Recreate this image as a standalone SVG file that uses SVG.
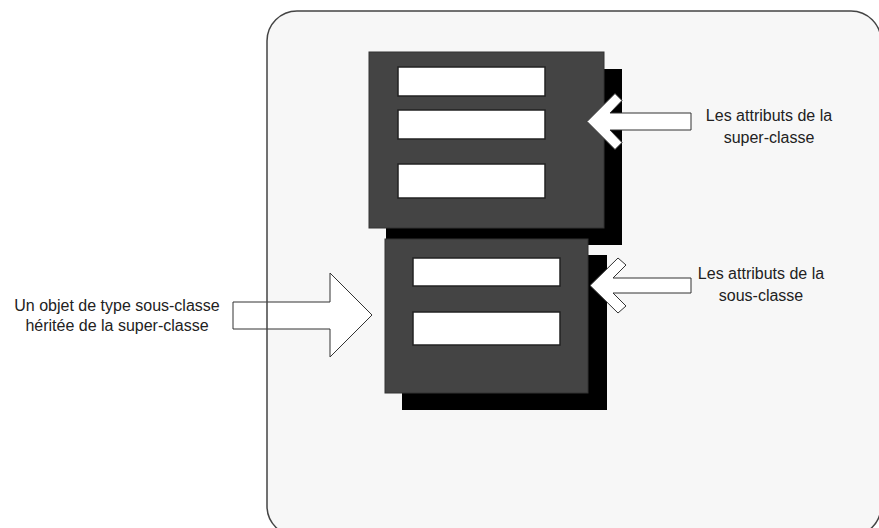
<svg xmlns="http://www.w3.org/2000/svg" width="879" height="528" viewBox="0 0 879 528">
  <style>
    .lbl { font-family: "Liberation Sans", Arial, sans-serif; font-size: 16px; fill: #222; text-anchor: middle; }
    .shadow { fill: #000; }
    .box { fill: #444; stroke: #333; stroke-width: 1; }
    .bar { fill: #fff; stroke: #222; stroke-width: 1.5; }
    .arrow { fill: #fff; stroke: #333; stroke-width: 1; stroke-linejoin: miter; }
  </style>
  <rect x="0" y="0" width="879" height="528" fill="#fff"/>
  <g id="container">
    <rect x="267" y="11" width="614" height="525" rx="30" ry="30" fill="#f7f7f7"/>
  </g>
  <g id="super-classe">
    <rect class="shadow" x="386" y="69" width="236" height="176"/>
    <rect class="box" x="369" y="52" width="235" height="176"/>
    <rect class="bar" x="398" y="67" width="147" height="29"/>
    <rect class="bar" x="398" y="110" width="147" height="29"/>
    <rect class="bar" x="398" y="164" width="147" height="34"/>
  </g>
  <g id="sous-classe">
    <rect class="shadow" x="402" y="255" width="205" height="155"/>
    <rect class="box" x="385" y="239" width="203" height="154"/>
    <rect class="bar" x="413" y="258" width="147" height="28"/>
    <rect class="bar" x="413" y="312" width="147" height="33"/>
  </g>
  <g id="connectors">
    <polygon class="arrow" points="587,121.5 615,93.5 622,100.5 610,113 691,113 691,130 610,130 622,142.5 615,149.5"/>
    <polygon class="arrow" points="590,285.5 618,258 626,265 613,278 691,278 691,293 613,293 626,306 618,313"/>
    <polygon class="arrow" points="233,302 330,302 330,273 372,315 330,357 330,329 233,329"/>
  </g>
  <g id="container-border">
    <rect x="267" y="11" width="614" height="525" rx="30" ry="30" fill="none" stroke="#444" stroke-width="1.5"/>
  </g>
  <g id="label-super">
    <text class="lbl" x="769" y="121">Les attributs de la</text>
    <text class="lbl" x="769" y="143">super-classe</text>
  </g>
  <g id="label-sous">
    <text class="lbl" x="761" y="279">Les attributs de la</text>
    <text class="lbl" x="761" y="301">sous-classe</text>
  </g>
  <g id="label-objet">
    <text class="lbl" x="117" y="311">Un objet de type sous-classe</text>
    <text class="lbl" x="117" y="331">héritée de la super-classe</text>
  </g>
</svg>
